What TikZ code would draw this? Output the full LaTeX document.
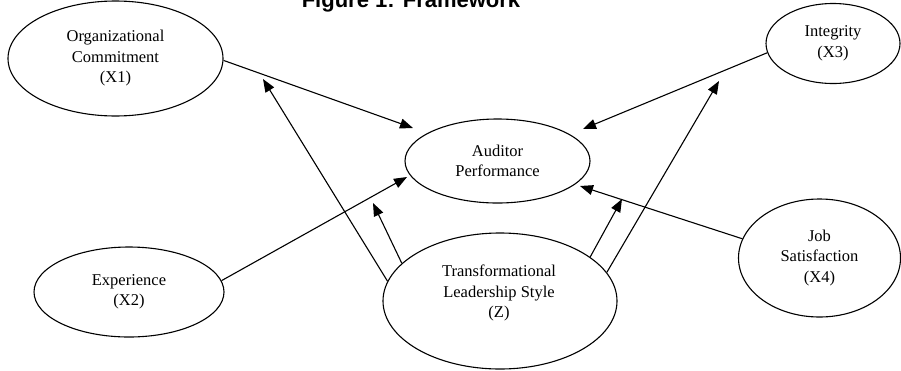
\documentclass[tikz,border=0pt]{standalone}
\usepackage{fontspec}
\setmainfont{Liberation Serif}
\newfontfamily\titlefont{Liberation Sans}
\usetikzlibrary{shapes.geometric,arrows.meta}
\tikzset{
  oval/.style={ellipse, draw, line width=1.1pt, inner sep=0pt, align=center,
    font=\fontsize{16.5}{20.5}\selectfont},
  lbl/.style={align=center, inner sep=0pt, font=\fontsize{16.5}{20.5}\selectfont},
  conn/.style={line width=1.1pt, -{Triangle[length=13pt,width=10pt]}}
}
\begin{document}
\begin{tikzpicture}[x=1pt,y=-1pt]
\useasboundingbox (0,0) rectangle (901,370);
\node[anchor=base, inner sep=0pt, font=\titlefont\bfseries\fontsize{22}{26}\selectfont] (title) at (411,7) {Figure 1: Framework};
\node[oval, minimum width=215pt, minimum height=115pt] (x1) at (115.5,58.5) {Organizational\\Commitment\\(X1)};
\node[oval, minimum width=185pt, minimum height=84pt] (ap) at (497.5,161) {Auditor\\Performance};
\node[oval, minimum width=134pt, minimum height=80pt] (x3) at (833,43.5) {Integrity\\(X3)};
\node[oval, minimum width=190pt, minimum height=90pt] (x2) at (129,292) {Experience\\(X2)};
\node[oval, minimum width=162pt, minimum height=118pt] (x4) at (819.5,258) {Job\\Satisfaction\\(X4)};
\node[oval, minimum width=234pt, minimum height=136pt] (z) at (500,301) {};
\node[lbl] (zt) at (499,293) {Transformational\\Leadership Style\\(Z)};
\coordinate (t1) at (413,128);
\coordinate (t2) at (263,79);
\coordinate (t3) at (373,203);
\coordinate (t4) at (407,177);
\coordinate (t5) at (719,81);
\coordinate (t6) at (622,199);
\coordinate (t7) at (583,129);
\coordinate (t8) at (580,186);
\draw[conn] (x1.-1) -- (t1);
\draw[conn] (z.170) -- (t2);
\draw[conn] (z.159.4) -- (t3);
\draw[conn] (x2.7.35) -- (t4);
\draw[conn] (z.15.2) -- (t5);
\draw[conn] (z.26.3) -- (t6);
\draw[conn] (x3.188) -- (t7);
\draw[conn] (x4.166.4) -- (t8);
\end{tikzpicture}
\end{document}
